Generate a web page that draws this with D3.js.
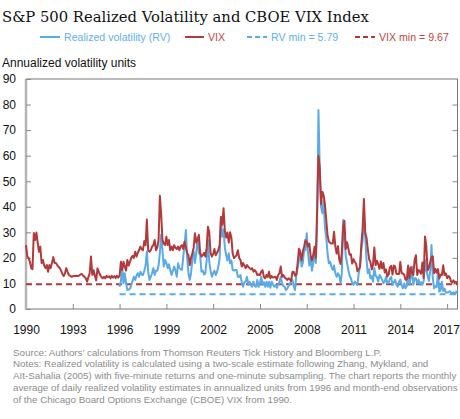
<!DOCTYPE html>
<html><head><meta charset="utf-8">
<script src="https://cdn.jsdelivr.net/npm/d3@7"></script>
<style>body{margin:0;background:#fff}svg{display:block}</style>
</head><body>
<svg id="c" width="460" height="419"></svg>
<script>
// ---------- data ----------
const vixStartYear = 1990;  // monthly, Jan 1990 .. Sep 2017
const vix = [
 25.0,20.5,20.0,18.5,16.0,15.6,29.7,27.0,29.9,26.0,22.4,24.4, // 1990
 18.0,19.2,17.0,16.0,17.2,14.6,17.2,16.0,18.0,20.3,18.0,18.0, // 1991
 17.2,16.5,16.0,15.0,13.7,12.9,14.0,16.0,14.5,13.3,13.0,12.6, // 1992
 12.8,12.9,12.9,13.0,12.9,13.2,13.5,13.7,13.0,12.6,12.0,10.7, // 1993
 12.5,14.0,20.5,13.3,15.2,13.0,11.2,15.9,14.6,13.3,12.5,12.0, // 1994
 12.6,12.0,13.0,12.4,12.8,12.0,13.0,12.3,12.9,12.1,13.0,12.3, // 1995
 13.0,18.5,15.3,18.5,16.6,15.0,19.2,17.0,18.5,20.0,20.8,20.0, // 1996
 22.4,20.5,22.0,23.0,24.4,23.5,23.0,26.6,25.0,35.0,23.0,22.4, // 1997
 23.0,24.4,25.0,27.0,23.0,24.0,27.0,44.3,37.0,27.0,25.6,25.0, // 1998
 28.3,25.0,27.0,23.0,24.4,23.0,25.0,24.0,23.5,24.4,23.0,24.5, // 1999
 25.0,23.5,26.4,24.0,21.8,21.0,17.2,20.0,21.8,24.0,29.6,26.0, // 2000
 27.0,29.0,22.0,20.5,21.0,22.0,20.5,24.0,32.2,30.0,22.0,20.5, // 2001
 21.5,23.5,21.0,22.0,23.1,25.0,36.0,33.0,39.4,30.6,28.0,29.9, // 2002
 26.0,30.0,28.0,21.8,19.9,20.5,21.0,23.0,20.0,19.2,16.6,18.0, // 2003
 17.0,16.0,17.2,16.5,16.0,15.5,16.0,14.6,15.2,14.5,13.3,13.5, // 2004
 13.3,14.6,15.2,12.6,12.0,13.3,12.5,14.6,12.0,12.9,12.3,12.5, // 2005
 12.6,11.4,13.3,14.0,16.6,12.6,13.3,12.3,12.0,11.4,12.0,11.6, // 2006
 11.0,14.5,14.6,13.0,13.5,17.9,23.6,22.0,19.0,22.5,24.4,27.0, // 2007
 26.2,24.4,25.6,20.8,19.0,21.1,24.4,20.0,39.4,59.9,55.3,41.0, // 2008
 45.9,44.5,41.0,35.0,28.9,26.4,25.9,25.6,25.6,30.2,24.5,21.7, // 2009
 24.6,19.5,17.6,22.1,32.1,34.5,23.5,26.1,23.7,21.2,21.4,17.8, // 2010
 19.5,18.4,17.7,14.8,15.5,16.5,25.3,31.6,43.0,30.0,27.8,23.4, // 2011
 19.4,18.4,15.5,17.2,24.1,17.1,18.9,17.5,15.7,18.6,15.9,18.0, // 2012
 14.3,15.5,12.7,13.5,16.3,16.9,13.5,17.0,16.6,13.8,13.7,13.7, // 2013
 18.4,14.0,13.9,13.4,11.4,11.6,17.0,12.1,16.3,14.0,13.3,19.2, // 2014
 21.0,13.3,15.3,14.6,13.8,18.2,12.1,28.4,24.5,15.1,16.1,18.2, // 2015
 20.2,20.6,14.0,15.7,14.2,15.6,11.9,13.4,13.3,17.1,13.3,14.0, // 2016
 12.0,12.9,12.4,10.8,10.4,11.2,10.3,10.6,9.67                 // 2017
];
const rvStartYear = 1996;   // monthly, Jan 1996 .. Sep 2017
const rv = [
  8.7,10.7,16.6,10.0,14.0,10.0, 7.4, 7.5, 8.0, 9.4,11.0,12.6, // 1996
 11.4,13.0,14.0,12.6,14.6,13.5,13.3,15.0,17.0,22.5,14.6,11.4, // 1997
 12.6,14.0,16.0,13.3,15.0,15.0,17.0,22.0,29.2,23.0,16.6,19.2, // 1998
 18.0,16.0,17.5,15.3,13.3,15.0,16.6,15.0,12.6,17.9,16.0,15.5, // 1999
 15.3,20.5,25.0,30.9,20.0,14.0,11.4,14.0,19.2,22.5,18.0,22.0, // 2000
 28.0,22.0,21.0,14.6,15.0,13.5,14.0,19.0,27.0,18.5,15.0,12.6, // 2001
 14.0,15.0,13.3,14.5,16.6,20.0,36.0,28.3,31.0,24.0,21.0,19.0, // 2002
 21.8,17.9,19.0,15.3,15.0,15.3,15.3,12.6,12.5,13.3,10.5, 8.7, // 2003
 10.5,10.7,12.6, 9.4,10.7, 9.5, 8.7,10.7, 9.0, 8.7,11.4, 8.7, // 2004
 10.0,12.6, 9.4,10.5, 8.7,10.7, 8.7,10.7, 8.3,10.7, 9.5, 8.7, // 2005
  9.4, 8.3, 9.5,10.7,12.6,10.0, 9.0, 8.7, 7.4, 8.0, 9.0,10.0, // 2006
 10.7,11.4, 9.0, 7.4,13.3,16.0,19.0,23.0,16.6,18.0,23.0,23.0, // 2007
 29.6,21.8,17.0,20.5,15.0,17.9,22.4,18.0,33.0,77.9,55.7,40.0, // 2008
 37.5,42.6,32.0,28.0,22.0,17.9,18.5,16.6,15.3,17.0,14.0,12.6, // 2009
 14.0,13.0,10.0,14.0,34.8,28.0,21.0,18.0,15.3,13.0,12.0,10.0, // 2010
  9.4,10.7,10.0, 9.4,14.0,16.6,23.0,27.0,34.8,28.3,19.2,14.0, // 2011
 15.5,12.0,12.9,10.7,16.0,13.0,12.5,10.7,13.3,12.5,11.5,10.1, // 2012
 10.7,12.6,10.1,10.1,12.0,12.5, 9.4,10.5,11.4, 9.5, 8.7,10.7, // 2013
 11.5, 9.5, 8.1,10.0, 8.1, 9.0,15.2, 9.5,12.0,16.6, 9.5,12.0, // 2014
 12.0,10.0,11.5, 9.5,10.5, 9.5,11.0,19.2,15.2,13.0,11.0,15.0, // 2015
 25.0,12.0, 8.1, 9.0, 8.5,14.6, 6.8, 7.5,10.7, 7.0, 8.0, 6.5, // 2016
  6.5, 6.5, 7.0, 6.5, 6.1, 6.5, 5.79,6.8, 6.1                 // 2017
];
const vixMin = 9.67;
const rvMin = 5.79;
const xTickYears = [1990,1993,1996,1999,2002,2005,2008,2011,2014,2017];
const yTickValues = [0,10,20,30,40,50,60,70,80,90];
const legendLabels = ["Realized volatility (RV)","VIX","RV min = 5.79","VIX min = 9.67"];
const titleText = "S&P 500 Realized Volatility and CBOE VIX Index";
const yAxisTitle = "Annualized volatility units";
const sourceText = "Source: Authors\u2019 calculations from Thomson Reuters Tick History and Bloomberg L.P.";
const notesLines = [
 "Notes: Realized volatility is calculated using a two-scale estimate following Zhang, Mykland, and",
 "A\u00eft-Sahalia (2005) with five-minute returns and one-minute subsampling. The chart reports the monthly",
 "average of daily realized volatility estimates in annualized units from 1996 and month-end observations",
 "of the Chicago Board Options Exchange (CBOE) VIX from 1990."
];

// ---------- drawing ----------
const RED = "#b23a3a", BLUE = "#5aaae6";
const RED_T = "#c0463f", BLUE_T = "#62b0ea";
const SANS = "'Liberation Sans', Arial, sans-serif";
const svg = d3.select("#c");
const L = 26, R = 457.5, T = 79, B = 309;
const lastYear = vixStartYear + (vix.length - 1) / 12;
const x = d3.scaleLinear().domain([vixStartYear, lastYear]).range([L, R]);
const y = d3.scaleLinear().domain([0, 90]).range([B, T]);

function fitText(sel, target) {
  const w = sel.node().getComputedTextLength();
  const fs = parseFloat(sel.attr("font-size"));
  sel.attr("font-size", (fs * target / w).toFixed(2));
}

// title
const title = svg.append("text").attr("x", 2).attr("y", 22)
  .attr("font-family", "'DejaVu Serif', 'Liberation Serif', serif")
  .attr("font-size", 16).attr("fill", "#111").text(titleText);
fitText(title, 367);

// legend
const lg = svg.append("g").attr("font-family", SANS).attr("font-size", 10.6);
const legendItems = [
  {x1: 40, x2: 60, tx: 64, color: BLUE, tcol: BLUE_T, dash: null},
  {x1: 185, x2: 204, tx: 208, color: RED, tcol: RED_T, dash: null},
  {x1: 247, x2: 267, tx: 271, color: BLUE, tcol: BLUE_T, dash: "5,3"},
  {x1: 355, x2: 375, tx: 379, color: RED, tcol: RED_T, dash: "5,3"}
];
legendItems.forEach((it, i) => {
  lg.append("line").attr("x1", it.x1).attr("x2", it.x2).attr("y1", 37).attr("y2", 37)
    .attr("stroke", it.color).attr("stroke-width", 2).attr("stroke-dasharray", it.dash);
  lg.append("text").attr("x", it.tx).attr("y", 41).attr("fill", it.tcol).text(legendLabels[i]);
});

// y axis title
svg.append("text").attr("x", 2).attr("y", 67)
  .attr("font-family", SANS).attr("font-size", 12)
  .attr("fill", "#111").text(yAxisTitle);

// frame
svg.append("line").attr("x1", L).attr("x2", R + 0.5).attr("y1", T).attr("y2", T).attr("stroke", "#777").attr("stroke-width", 1);
svg.append("line").attr("x1", R).attr("x2", R).attr("y1", T).attr("y2", B).attr("stroke", "#777").attr("stroke-width", 1);
svg.append("line").attr("x1", L).attr("x2", R + 0.5).attr("y1", B).attr("y2", B).attr("stroke", "#777").attr("stroke-width", 1);
svg.append("line").attr("x1", L).attr("x2", L).attr("y1", T).attr("y2", B + 1).attr("stroke", "#b5b5b5").attr("stroke-width", 2.5);

// y ticks & labels
const yAxisL = d3.axisLeft(y).tickValues(yTickValues).tickSize(-5).tickPadding(10).tickFormat(d3.format("d"));
const gyl = svg.append("g").attr("transform", `translate(${L},0)`).call(yAxisL);
gyl.select(".domain").remove();
gyl.selectAll(".tick line").attr("stroke", "#888");
gyl.selectAll(".tick text").attr("font-family", SANS)
  .attr("font-size", 12).attr("fill", "#111").attr("x", -10);
const yAxisR = d3.axisRight(y).tickValues(yTickValues.filter(v => v > 0 && v < 90)).tickSize(-5).tickFormat("");
const gyr = svg.append("g").attr("transform", `translate(${R},0)`).call(yAxisR);
gyr.select(".domain").remove();
gyr.selectAll(".tick line").attr("stroke", "#888");

// x ticks & labels
const xAxis = d3.axisBottom(x).tickValues(xTickYears).tickSize(-5).tickPadding(16).tickFormat(d3.format("d"));
const gx = svg.append("g").attr("transform", `translate(0,${B})`).call(xAxis);
gx.select(".domain").remove();
gx.selectAll(".tick line").attr("stroke", "#888").filter(d => d === 1990).remove();
gx.selectAll(".tick text").attr("font-family", SANS)
  .attr("font-size", 12).attr("fill", "#111");
gx.selectAll(".tick text").filter(d => d === 2017).attr("dx", "-1");

// min lines
svg.append("line").attr("x1", x(rvStartYear)).attr("x2", R).attr("y1", y(rvMin)).attr("y2", y(rvMin))
  .attr("stroke", BLUE).attr("stroke-width", 2).attr("stroke-dasharray", "6,4");
svg.append("line").attr("x1", L).attr("x2", R).attr("y1", y(vixMin)).attr("y2", y(vixMin))
  .attr("stroke", RED).attr("stroke-width", 2).attr("stroke-dasharray", "6,4");

// series
const lineV = d3.line().x((d, i) => x(vixStartYear + i / 12)).y(d => y(d));
const lineR = d3.line().x((d, i) => x(rvStartYear + i / 12)).y(d => y(d));
svg.append("path").datum(rv).attr("d", lineR).attr("fill", "none")
  .attr("stroke", BLUE).attr("stroke-width", 2).attr("stroke-linejoin", "round");
svg.append("path").datum(vix).attr("d", lineV).attr("fill", "none")
  .attr("stroke", RED).attr("stroke-width", 2).attr("stroke-linejoin", "round");

// source & notes (one common font size, fitted so the longest line spans 13..459)
const foot = svg.append("g").attr("font-family", SANS).attr("fill", "#8c8c8c");
const src = foot.append("text").attr("x", 13).attr("y", 356).attr("font-size", 10).text(sourceText);
const notes = notesLines.map((t, i) =>
  foot.append("text").attr("x", 13).attr("y", 367 + i * 12).attr("font-size", 10).text(t));
const maxW = d3.max(notes, n => n.node().getComputedTextLength());
const fs = (10 * 445 / maxW).toFixed(2);
src.attr("font-size", fs);
notes.forEach(n => n.attr("font-size", fs));
</script>
</body></html>
